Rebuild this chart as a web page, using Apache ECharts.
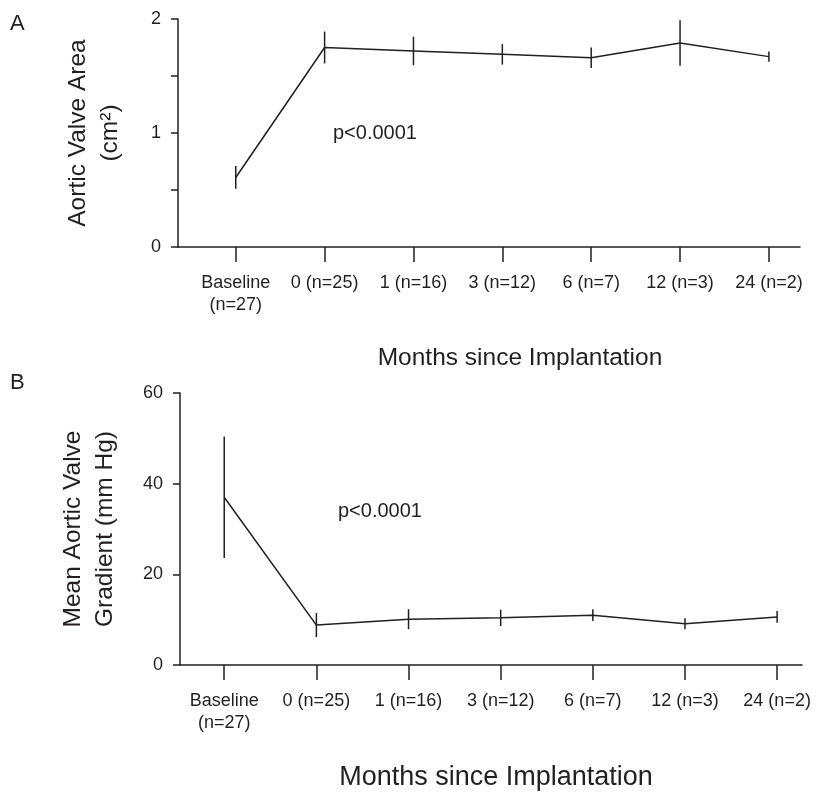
<!DOCTYPE html>
<html>
<head>
<meta charset="utf-8">
<script src="https://cdn.jsdelivr.net/npm/echarts@6/dist/echarts.min.js"></script>
<style>
html,body{margin:0;padding:0;background:#fff;}
#chart{width:818px;height:792px;}
</style>
</head>
<body>
<div id="chart"></div>
<script>
// ---- data ----
var categories = ['Baseline\n(n=27)', '0 (n=25)', '1 (n=16)', '3 (n=12)', '6 (n=7)', '12 (n=3)', '24 (n=2)'];
var areaMean = [0.61, 1.75, 1.72, 1.69, 1.66, 1.79, 1.67];
var areaErr  = [0.10, 0.14, 0.125, 0.09, 0.09, 0.20, 0.045];
var gradMean = [37.0, 8.8, 10.1, 10.4, 11.0, 9.1, 10.6];
var gradErr  = [13.4, 2.65, 2.2, 1.8, 1.3, 1.2, 1.3];
var areaYTicks = [0, 1, 2];
var gradYTicks = [0, 20, 40, 60];
var panelA = 'A', panelB = 'B';
var yNameA = 'Aortic Valve Area\n(cm\u00B2)';
var yNameB = 'Mean Aortic Valve\nGradient (mm Hg)';
var xName = 'Months since Implantation';
var pText = 'p<0.0001';

// ---- helpers ----
var INK = '#231f20';
var FONT = '"Liberation Sans", Arial, Helvetica, sans-serif';
var catIdx = categories.map(function (c, i) { return i; });

function pts(mean) { return mean.map(function (v, i) { return [i, v]; }); }
function errData(mean, err) { return mean.map(function (v, i) { return [i, v - err[i], v + err[i]]; }); }

function xAxisCfg(gridIndex, min, max) {
  return {
    type: 'value', gridIndex: gridIndex, min: min, max: max,
    splitLine: { show: false },
    axisLine: { show: true, onZero: false, lineStyle: { color: INK, width: 1.5 } },
    axisTick: { show: true, customValues: catIdx, length: 15, lineStyle: { color: INK, width: 1.5 } },
    axisLabel: {
      show: true, customValues: catIdx, margin: 25, color: INK, fontSize: 18, fontFamily: FONT, lineHeight: 22,
      formatter: function (v) { return categories[Math.round(v)]; }
    }
  };
}
function yAxisCfg(gridIndex, min, max, interval, labels, name, gap) {
  return {
    type: 'value', gridIndex: gridIndex, min: min, max: max, interval: interval,
    splitLine: { show: false },
    axisLine: { show: true, onZero: false, lineStyle: { color: INK, width: 1.5 } },
    axisTick: { show: true, length: 7, lineStyle: { color: INK, width: 1.5 } },
    axisLabel: { show: true, customValues: labels, margin: 17, color: INK, fontSize: 18, fontFamily: FONT },
    name: name, nameLocation: 'middle', nameGap: gap, nameRotate: 90,
    nameTextStyle: { color: INK, fontSize: 24.5, fontFamily: FONT, lineHeight: 32 }
  };
}
function errSeries(xi, yi, data) {
  return {
    type: 'custom', xAxisIndex: xi, yAxisIndex: yi, data: data, silent: true,
    renderItem: function (params, api) {
      var lo = api.coord([api.value(0), api.value(1)]);
      var hi = api.coord([api.value(0), api.value(2)]);
      return { type: 'line', shape: { x1: lo[0], y1: lo[1], x2: hi[0], y2: hi[1] },
               style: { stroke: INK, lineWidth: 1.5 } };
    }
  };
}
function lineSeries(xi, yi, data) {
  return { type: 'line', xAxisIndex: xi, yAxisIndex: yi, data: data, symbol: 'none',
           lineStyle: { color: INK, width: 1.5 }, silent: true, animation: false };
}
function txt(x, y, s, size, align) {
  return { type: 'text', x: x, y: y, silent: true,
    style: { text: s, font: size + 'px ' + FONT, fill: INK, align: align || 'left', textAlign: align || 'left',
             verticalAlign: 'middle', textVerticalAlign: 'middle' } };
}

var chart = echarts.init(document.getElementById('chart'), null, { renderer: 'canvas' });
chart.setOption({
  animation: false,
  backgroundColor: '#ffffff',
  grid: [
    { left: 178, right: 18, top: 19, bottom: 545 },
    { left: 180, right: 16, top: 393, bottom: 127 }
  ],
  xAxis: [ xAxisCfg(0, -0.65, 6.35), xAxisCfg(1, -0.48, 6.27) ],
  yAxis: [ yAxisCfg(0, 0, 2, 0.5, areaYTicks, yNameA, 52), yAxisCfg(1, 0, 60, 20, gradYTicks, yNameB, 59) ],
  series: [
    lineSeries(0, 0, pts(areaMean)),
    errSeries(0, 0, errData(areaMean, areaErr)),
    lineSeries(1, 1, pts(gradMean)),
    errSeries(1, 1, errData(gradMean, gradErr))
  ],
  graphic: [
    txt(10, 24, panelA, 22),
    txt(10, 383, panelB, 22),
    txt(520, 358, xName, 24.5, 'center'),
    txt(496, 778, xName, 27, 'center'),
    txt(333, 133, pText, 20),
    txt(338, 511, pText, 20)
  ]
});
</script>
</body>
</html>
